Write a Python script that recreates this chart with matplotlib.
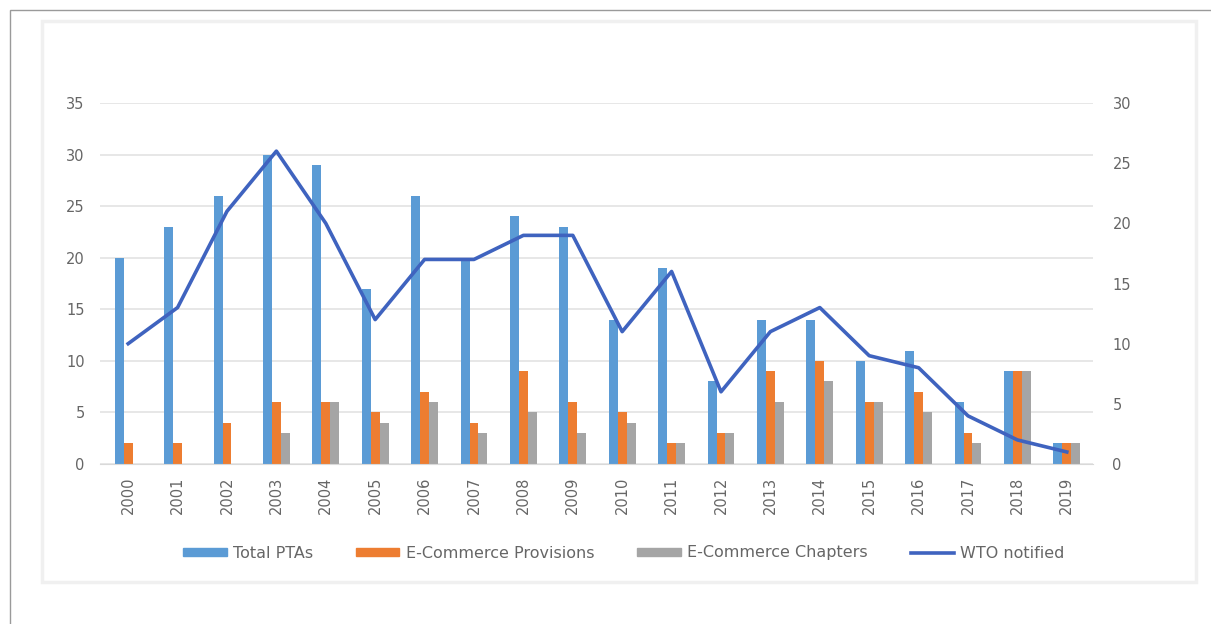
import matplotlib.pyplot as plt
from matplotlib.patches import Rectangle
from matplotlib.lines import Line2D
import numpy as np

years = ['2000', '2001', '2002', '2003', '2004', '2005', '2006', '2007', '2008', '2009',
         '2010', '2011', '2012', '2013', '2014', '2015', '2016', '2017', '2018', '2019']
total_ptas = [20, 23, 26, 30, 29, 17, 26, 20, 24, 23, 14, 19, 8, 14, 14, 10, 11, 6, 9, 2]
ecom_provisions = [2, 2, 4, 6, 6, 5, 7, 4, 9, 6, 5, 2, 3, 9, 10, 6, 7, 3, 9, 2]
ecom_chapters = [0, 0, 0, 3, 6, 4, 6, 3, 5, 3, 4, 2, 3, 6, 8, 6, 5, 2, 9, 2]
wto_notified = [10, 13, 21, 26, 20, 12, 17, 17, 19, 19, 11, 16, 6, 11, 13, 9, 8, 4, 2, 1]

c_blue = '#5B9BD5'
c_orange = '#ED7D31'
c_gray = '#A5A5A5'
c_line = '#3F63BF'
c_text = '#666666'

fig = plt.figure(figsize=(12.11, 6.24), dpi=100)

# outer frame and chart box
fig.patches.append(Rectangle((10/1211, -0.01), 1.2, 1 - 10/624 + 0.01, transform=fig.transFigure,
                             fill=False, edgecolor='#9a9a9a', linewidth=1.0))
fig.patches.append(Rectangle((42/1211, 1 - 582/624), (1196 - 42)/1211, (582 - 21)/624,
                             transform=fig.transFigure, fill=False, edgecolor='#f0f0f0', linewidth=2.5))

ax = fig.add_axes([100/1211, 1 - 464/624, (1093 - 100)/1211, (464 - 103)/624])
ax2 = ax.twinx()

x = np.arange(len(years))
w = 0.18
ax.bar(x - w, total_ptas, w, color=c_blue, label='Total PTAs', zorder=2)
ax.bar(x, ecom_provisions, w, color=c_orange, label='E-Commerce Provisions', zorder=2)
ax.bar(x + w, ecom_chapters, w, color=c_gray, label='E-Commerce Chapters', zorder=2)
ax2.plot(x, wto_notified, color=c_line, linewidth=2.6, label='WTO notified')

ax.set_xlim(-0.57, 19.53)
ax.set_ylim(0, 35)
ax.set_yticks(range(0, 36, 5))
ax2.set_ylim(0, 30)
ax2.set_yticks(range(0, 31, 5))
ax.set_xticks(x)
ax.set_xticklabels(years, rotation=90)

ax.grid(axis='y', color='#e3e3e3', linewidth=1.2, zorder=0)
ax.set_axisbelow(True)
for a in (ax, ax2):
    for s in a.spines.values():
        s.set_visible(False)
    a.tick_params(length=0, labelsize=10.5, colors=c_text)
ax.spines['bottom'].set_visible(True)
ax.spines['bottom'].set_color('#d9d9d9')
ax.tick_params(axis='y', pad=11)
ax2.tick_params(axis='y', pad=14)
ax.tick_params(axis='x', pad=9)

handles = [Rectangle((0, 0), 1, 1, color=c_blue), Rectangle((0, 0), 1, 1, color=c_orange),
           Rectangle((0, 0), 1, 1, color=c_gray), Line2D([0], [0], color=c_line, linewidth=2.6)]
labels = ['Total PTAs', 'E-Commerce Provisions', 'E-Commerce Chapters', 'WTO notified']
fig.legend(handles, labels, loc='center', bbox_to_anchor=(624/1211, 1 - 553/624), ncol=4,
           frameon=False, fontsize=11.5, labelcolor=c_text, handlelength=2.7, handleheight=0.45,
           handletextpad=0.4, columnspacing=2.7)

fig.savefig('out.png', dpi=100)
